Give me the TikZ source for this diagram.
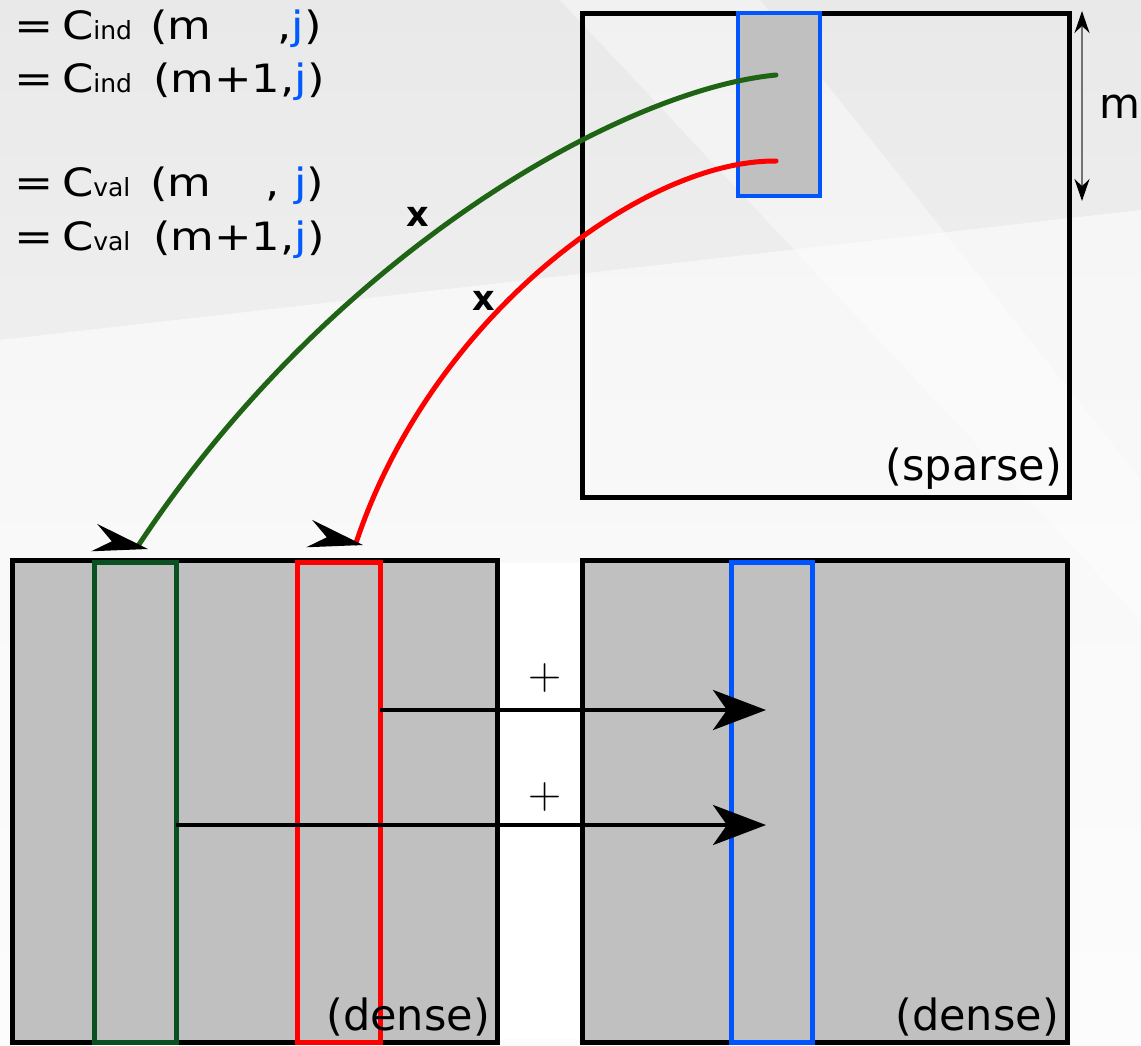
\documentclass[tikz,border=0pt]{standalone}
\usepackage{fontspec}
\usepackage{graphicx}
\setmainfont{DejaVu Sans}
\newfontfamily\lmr{Latin Modern Roman}
\usetikzlibrary{arrows.meta}
\definecolor{boxgray}{RGB}{192,192,192}
\definecolor{colblue}{RGB}{0,85,255}
\definecolor{curvegreen}{RGB}{30,100,20}
\definecolor{rectgreen}{RGB}{10,80,35}
\definecolor{jblue}{RGB}{0,90,255}
\definecolor{bgtop}{RGB}{233,233,233}
\definecolor{bgmid}{RGB}{250,250,250}
\newcommand{\bigtxt}{\fontsize{39}{39}\selectfont}
\newcommand{\subtxt}{\fontsize{25}{25}\selectfont}
\begin{document}
\begin{tikzpicture}[x=1pt,y=-1pt,
  mat/.style={draw=black, line width=5pt, inner sep=0pt, outer sep=0pt},
  colbox/.style={line width=5pt, inner sep=0pt, outer sep=0pt},
  lbl/.style={inner sep=0pt, outer sep=0pt, anchor=base west, font=\bigtxt},
  curve/.style={line width=5pt, line cap=round},
  harrow/.style={line width=4pt, -{Stealth[length=53pt,width=40pt,inset=14pt]}},
]
% background
\path[use as bounding box] (0,0) rectangle (1141,1045);
\shade[top color=bgtop, bottom color=bgmid] (0,0) rectangle (1141,1045);
\fill[white, opacity=0.55] (0,340) -- (1141,210) -- (1141,1045) -- (0,1045) -- cycle;
\fill[white, opacity=0.4] (560,0) -- (760,0) -- (1141,480) -- (1141,620) -- cycle;

% sparse matrix
\node[mat, minimum width=487pt, minimum height=484pt] (sparse) at (825.5,255) {};
\node[colbox, draw=colblue, fill=boxgray, line width=4pt, minimum width=82pt, minimum height=183pt] (scol) at (779,104.5) {};
\node[anchor=base east, inner sep=0pt, font=\fontsize{43}{43}\selectfont] (sl) at (1062,480) {(sparse)};

% curves
\coordinate (gs) at (776,75);
\coordinate (ge) at (138,546);
\coordinate (rs) at (776,161);
\coordinate (re) at (356,543);
\draw[curve, curvegreen] (gs) .. controls (620,90) and (330,255) .. (ge);
\draw[curve, red] (rs) .. controls (640,160) and (430,320) .. (re);
\node[font=\fontsize{35}{35}\selectfont\bfseries, inner sep=0pt] (x1) at (418,217) {x};
\node[font=\fontsize{35}{35}\selectfont\bfseries, inner sep=0pt] (x2) at (484,301) {x};

% dense matrices
\node[mat, fill=boxgray, minimum width=485pt, minimum height=482pt] (dl) at (254.5,801) {};
\node[mat, fill=boxgray, minimum width=485pt, minimum height=482pt] (dr) at (824.5,801) {};
\node[colbox, draw=rectgreen, minimum width=82pt, minimum height=480pt] (gcol) at (135,802) {};
\node[colbox, draw=red, minimum width=83pt, minimum height=480pt] (rcol) at (338.5,802) {};
\node[colbox, draw=colblue, minimum width=81pt, minimum height=480pt] (bcol) at (771.5,802) {};
\node[anchor=base east, inner sep=0pt, font=\fontsize{43}{43}\selectfont] (dll) at (490,1030) {(dense)};
\node[anchor=base east, inner sep=0pt, font=\fontsize{43}{43}\selectfont] (drl) at (1059,1030) {(dense)};

% white gap
\fill[white] (499.5,563) rectangle (579.5,1039);
\draw[line width=5pt] (497,558) -- (497,1044);
\draw[line width=5pt] (582,558) -- (582,1044);

% arrowheads of curves
\coordinate (gtip) at (148,549);
\coordinate (rtip) at (363,545);
\begin{scope}[shift={(gtip)}, rotate=-12]
  \fill (0,0) -- (-55,-14) -- (-37,0) -- (-55,14) -- cycle;
\end{scope}
\begin{scope}[shift={(rtip)}, rotate=-12]
  \fill (0,0) -- (-55,-14) -- (-37,0) -- (-55,14) -- cycle;
\end{scope}

% horizontal arrows
\coordinate (h1) at (766,710);
\coordinate (h2) at (766,825);
\draw[harrow] (rcol.east |- h1) -- (h1);
\draw[harrow] (gcol.east |- h2) -- (h2);
\node[font=\lmr\fontsize{46}{46}\selectfont, inner sep=0pt] (p1) at (545,678) {+};
\node[font=\lmr\fontsize{46}{46}\selectfont, inner sep=0pt] (p2) at (545,797) {+};

% m dimension arrow
\coordinate (mt) at (1082,11);
\coordinate (mb) at (1082,201);
\draw[line width=2.5pt, black!55, {Stealth[length=22pt,width=15pt,color=black]}-{Stealth[length=22pt,width=15pt,color=black]}] (mt) -- (mb);
\node[anchor=base west, inner sep=0pt, font=\fontsize{42}{42}\selectfont] (mlab) at (1099,118) {m};

% formulas
\node[lbl] (e1) at (14,39) {\scalebox{1.2}[1]{=}};
\node[lbl] (c1) at (62,39) {\scalebox{1.15}[1]{C}{\subtxt ind}};
\node[lbl] (a1) at (150,39) {\scalebox{1.15}[1]{(m\phantom{+1},\textcolor{jblue}{j})}};
\node[lbl] (e2) at (14,92) {\scalebox{1.2}[1]{=}};
\node[lbl] (c2) at (62,92) {\scalebox{1.15}[1]{C}{\subtxt ind}};
\node[lbl] (a2) at (153,92) {\scalebox{1.15}[1]{(m+1,\textcolor{jblue}{j})}};
\node[lbl] (e3) at (14,196) {\scalebox{1.2}[1]{=}};
\node[lbl] (c3) at (62,196) {\scalebox{1.15}[1]{C}{\subtxt val}};
\node[lbl] (a3) at (150,196) {\scalebox{1.15}[1]{(m\phantom{+1}\hspace{-10pt}, \textcolor{jblue}{j})}};
\node[lbl] (e4) at (14,250) {\scalebox{1.2}[1]{=}};
\node[lbl] (c4) at (62,250) {\scalebox{1.15}[1]{C}{\subtxt val}};
\node[lbl] (a4) at (153,250) {\scalebox{1.15}[1]{(m+1,\textcolor{jblue}{j})}};
\end{tikzpicture}
\end{document}
